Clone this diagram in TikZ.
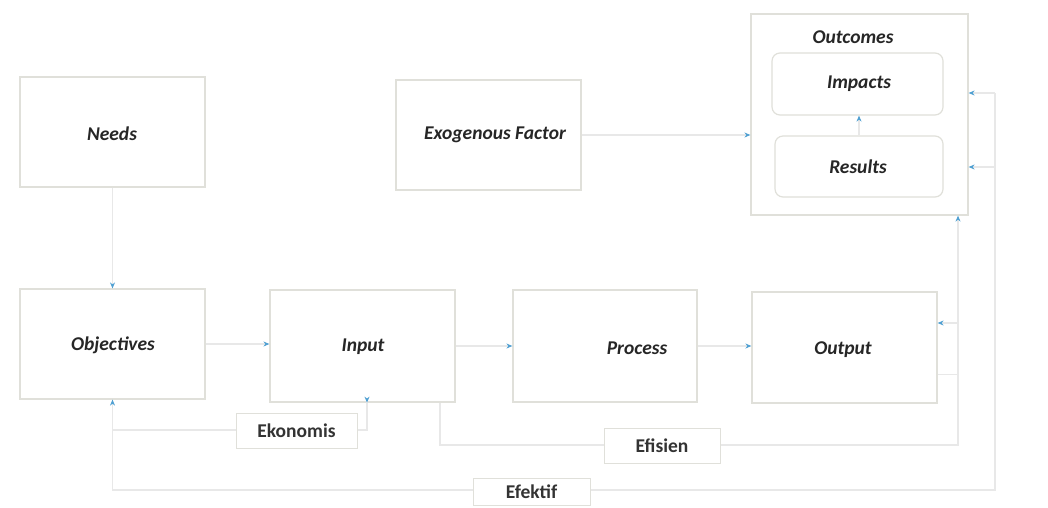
\documentclass[tikz,border=0pt]{standalone}
\usepackage{fontspec}
\setmainfont{Carlito}
\usetikzlibrary{arrows.meta,calc}
\definecolor{linegray}{RGB}{232,232,232}
\definecolor{boxgray}{RGB}{224,224,218}
\definecolor{tipblue}{RGB}{80,160,210}
\begin{document}
\begin{tikzpicture}[x=1pt,y=-1pt,
  box/.style={draw=boxgray,line width=1.2pt,fill=white,inner sep=0pt,anchor=center},
  rbox/.style={box,rounded corners=8pt},
  lbl/.style={font=\fontsize{19.5}{22}\selectfont\bfseries\itshape,text=black!85},
  tag/.style={draw=boxgray,line width=1pt,fill=white,inner sep=0pt,font=\fontsize{19.5}{22}\selectfont\bfseries,text=black!80},
  conn/.style={draw=linegray,line width=1.4pt,-{Stealth[length=6pt,width=5pt,color=tipblue]}},
  plain/.style={draw=linegray,line width=1.4pt},
  both/.style={draw=linegray,line width=1.4pt,{Stealth[length=6pt,width=5pt,color=tipblue]}-{Stealth[length=6pt,width=5pt,color=tipblue]}}
]
\useasboundingbox (0,0) rectangle (1048,507);
% nodes
\node[box,minimum width=185pt,minimum height=110pt] (needs) at (112.5,132) {};
\node[lbl] (needstxt) at (112,134) {Needs};
\node[box,minimum width=185pt,minimum height=110pt] (exo) at (488.5,135) {};
\node[lbl] (exotxt) at (495,135) {Exogenous Factor};
\node[box,minimum width=217pt,minimum height=201pt] (outcomes) at (859.5,114.5) {};
\node[lbl] (outtitle) at (853,37) {Outcomes};
\node[rbox,minimum width=171pt,minimum height=62pt] (impacts) at (857.5,84) {};
\node[lbl] (impactstxt) at (859,84) {Impacts};
\node[rbox,minimum width=168pt,minimum height=61pt] (results) at (859,166.5) {};
\node[lbl] (resultstxt) at (858,167) {Results};
\node[box,minimum width=185pt,minimum height=110pt] (objectives) at (112.5,344) {};
\node[lbl] (objtxt) at (113,345) {Objectives};
\node[box,minimum width=185pt,minimum height=112pt] (input) at (362.5,346) {};
\node[lbl] (inputtxt) at (363,347) {Input};
\node[box,minimum width=184pt,minimum height=112pt] (process) at (605,346) {};
\node[lbl] (processtxt) at (637,348) {Process};
\node[box,minimum width=185pt,minimum height=111pt] (output) at (844.5,347.5) {};
\node[lbl] (outputtxt) at (843,350) {Output};
% connectors
\draw[conn] (needs.south) -- (objectives.north);
\draw[conn] (objectives.east) -- (objectives.east -| input.west);
\draw[conn] (input.east) -- (process.west);
\draw[conn] (process.east) -- (process.east -| output.west);
\draw[conn] (exo.east) -- (exo.east -| outcomes.west);
\draw[conn] (results.north) -- (results.north |- impacts.south);
% output -> outcomes
\coordinate (oo1) at ($(output.east)+(0,27)$);
\draw[conn] (oo1) -| (outcomes.south -| 958,0);
% ekonomis
\coordinate (ek1) at (112.5,430);
\draw[both] (objectives.south) -- (ek1) -| (367,401.9) -- (input.south -| 367,0);
% efisien
\coordinate (ef1) at (440,445);
\draw[conn] (input.south -| ef1) -- (ef1) -| (958,323) -- (output.east |- 0,323);
% efektif
\coordinate (ek2) at (112.5,490);
\coordinate (ek3) at (995,490);
\draw[plain] (ek1) -- (ek2) -- (ek3) -- (995,93);
\draw[conn] (995,93) -- (outcomes.east |- 0,93);
\draw[conn] (995,167) -- (outcomes.east |- 0,167);
% tags
\node[tag,minimum width=121pt,minimum height=35pt] (ekonomis) at (296.5,430.5) {Ekonomis};
\node[tag,minimum width=116pt,minimum height=35pt] (efisien) at (662,445.5) {Efisien};
\node[tag,minimum width=117pt,minimum height=27pt] (efektif) at (531.5,491.5) {Efektif};
\end{tikzpicture}
\end{document}
